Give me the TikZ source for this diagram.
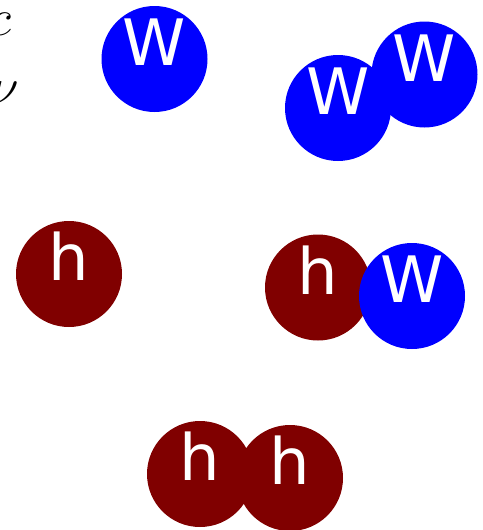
\documentclass[tikz,border=0pt]{standalone}
\usepackage{fix-cm}
\usepackage{fontspec}
\usepackage{xcolor}
\newfontfamily\dejavu{DejaVu Sans}
\definecolor{wblue}{RGB}{0,0,255}
\definecolor{hred}{RGB}{128,0,0}
\tikzset{
  part/.style={circle,minimum size=106pt,inner sep=0pt,text=white,font={\dejavu\fontsize{64}{64}\selectfont},text height=47pt,text depth=34pt},
  wbos/.style={part,fill=wblue},
  higgs/.style={part,fill=hred},
  lab/.style={inner sep=0pt,font={\fontsize{52}{52}\selectfont}},
}

\begin{document}
\begin{tikzpicture}[x=1pt,y=-1pt]
    \useasboundingbox (0,0) rectangle (482,530);
    % cut-off labels at the left edge
    \node[lab,anchor=base east] (c) at (12,35) {$c$};
    \node[lab,anchor=base east] (nu) at (19,104) {$\nu$};
    % single particles
    \node[wbos] (w) at (154.5,59) {W};
    \node[higgs] (h) at (69,274) {h};
    % pairs
    \node[wbos] (ww1) at (424.5,74.5) {W};
    \node[wbos] (ww2) at (338,108) {W};
    \node[higgs] (hw1) at (318,287.5) {h};
    \node[wbos] (hw2) at (412,296) {W};
    \node[higgs] (hh1) at (200,474) {h};
    \node[higgs] (hh2) at (290,478) {h};
\end{tikzpicture}
\end{document}
